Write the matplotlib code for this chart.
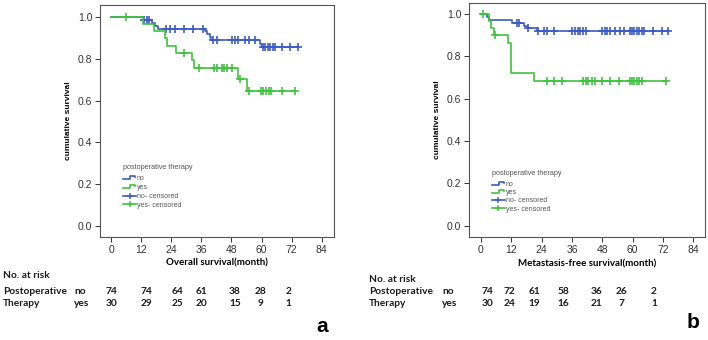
import numpy as np
import matplotlib
matplotlib.use("Agg")
import matplotlib.pyplot as plt
from matplotlib.lines import Line2D
from matplotlib.legend_handler import HandlerLine2D

# ---- panel a: overall survival ----
a_no_event_t = [12.6, 16.5, 17.5, 18.7, 37.3, 38.3, 39.3, 40.0, 59.2, 60.0]
a_no_surv = [0.986, 0.973, 0.959, 0.946, 0.932, 0.918, 0.904, 0.890, 0.873, 0.858]
a_no_cens = [13.3, 14.2, 15.1, 22.0, 23.5, 25.5, 29.0, 32.5, 36.5, 40.8, 42.1, 48.1,
             49.4, 50.8, 53.4, 55.1, 57.4, 60.6, 61.5, 62.4, 63.4, 64.4, 65.4, 68.0,
             71.4, 74.5]
a_yes_event_t = [12.9, 17.2, 21.5, 22.5, 25.8, 32.2, 33.1, 50.6, 54.3]
a_yes_surv = [0.967, 0.933, 0.899, 0.864, 0.830, 0.794, 0.757, 0.705, 0.645]
a_yes_cens = [6.0, 29.0, 35.0, 41.2, 42.1, 44.1, 45.0, 46.1, 48.1, 51.4, 55.0, 59.7,
              60.7, 61.8, 62.9, 63.9, 68.2, 73.2]

# ---- panel b: metastasis-free survival ----
b_no_event_t = [2.5, 3.2, 12.1, 17.0, 18.3, 22.0]
b_no_surv = [0.986, 0.973, 0.959, 0.945, 0.932, 0.918]
b_no_cens = [14.1, 15.2, 18.8, 22.7, 24.9, 26.0, 29.0, 36.1, 37.3, 38.4, 39.4, 40.5,
             41.7, 47.8, 49.1, 50.0, 51.1, 53.0, 55.0, 56.6, 59.0, 59.9, 60.7, 61.6,
             62.6, 63.6, 64.5, 68.2, 71.5, 74.1]
b_yes_event_t = [3.0, 4.0, 5.0, 10.8, 12.0, 21.0]
b_yes_surv = [0.967, 0.933, 0.900, 0.862, 0.720, 0.683]
b_yes_cens = [0.8, 5.5, 26.1, 29.1, 32.0, 40.5, 41.5, 42.5, 43.8, 45.2, 48.1, 51.0,
              54.8, 58.9, 59.8, 60.6, 61.6, 62.6, 63.6, 73.2]

# numbers at risk
a_risk_no = [74, 74, 64, 61, 38, 28, 2]
a_risk_yes = [30, 29, 25, 20, 15, 9, 1]
b_risk_no = [74, 72, 61, 58, 36, 26, 2]
b_risk_yes = [30, 24, 19, 16, 21, 7, 1]

x_ticks = [0, 12, 24, 36, 48, 60, 72, 84]
y_ticks = [0.0, 0.2, 0.4, 0.6, 0.8, 1.0]
legend_labels = ["no", "yes", "no- censored", "yes- censored"]

BLUE = "#3d5bc4"
GREEN = "#3ec43e"
W, H = 708, 340


class StepHandler(HandlerLine2D):
    """legend icon drawn as a little step, like SPSS does"""
    def create_artists(self, legend, orig_handle, xdescent, ydescent,
                       width, height, fontsize, trans):
        x = np.array([0, 0.55, 0.55, 0.95, 0.95]) * width - xdescent
        y = np.array([0.15, 0.15, 0.85, 0.85, 0.55]) * height - ydescent
        ln = Line2D(x, y, color=orig_handle.get_color(), lw=orig_handle.get_linewidth())
        ln.set_transform(trans)
        return [ln]


def km_curve(ax, event_t, surv, cens, color):
    last = max(cens + event_t)
    t = [0] + event_t + [last]
    s = [1.0] + surv + [surv[-1]]
    ax.step(t, s, where="post", color=color, lw=1.2)
    idx = np.searchsorted(event_t, cens, side="right")
    levels = np.array([1.0] + surv)
    ax.plot(cens, levels[idx], ls="none", marker="+", color=color,
            markersize=5.5, mew=1.2)


def panel(rect, xlim, ylim, curves, xlabel, xlabel_y, leg_anchor, leg_spacing):
    ax = fig.add_axes(rect)
    for ev, sv, cs, col in curves:
        km_curve(ax, ev, sv, cs, col)
    ax.set_xlim(*xlim)
    ax.set_ylim(*ylim)
    ax.set_xticks(x_ticks)
    ax.set_xticklabels([str(v) for v in x_ticks])
    ax.set_yticks(y_ticks)
    ax.set_yticklabels([f"{v:.1f}" for v in y_ticks])
    ax.tick_params(direction="out", length=3.5, width=0.7, colors="#333333",
                   labelsize=7.5, pad=2)
    for sp in ax.spines.values():
        sp.set_color("#555555")
        sp.set_linewidth(0.8)
    ax.set_ylabel("cumulative survival", fontsize=6, fontweight="bold", labelpad=4)
    fig.text((rect[0] + rect[2] / 2), 1 - xlabel_y / H, xlabel, ha="center", va="center",
             fontsize=7, fontweight="bold", family="Lato")
    handles = [Line2D([], [], color=BLUE, lw=1.2), Line2D([], [], color=GREEN, lw=1.2),
               Line2D([], [], color=BLUE, lw=1.2, marker="+", markersize=5, mew=1.1),
               Line2D([], [], color=GREEN, lw=1.2, marker="+", markersize=5, mew=1.1)]
    leg = ax.legend(handles, legend_labels, title="postoperative therapy",
                    loc="upper left", bbox_to_anchor=leg_anchor, frameon=False,
                    fontsize=5, title_fontsize=5.2, borderpad=0, borderaxespad=0,
                    handlelength=1.9, handletextpad=0.1, labelspacing=leg_spacing,
                    alignment="left",
                    handler_map={handles[0]: StepHandler(), handles[1]: StepHandler()})
    leg.get_title().set_color("#555555")
    for t in leg.get_texts():
        t.set_color("#555555")
    leg._legend_box.sep = 3
    return ax


def risk_table(x_left, x_grp, x_cols, rows_y, risk_no, risk_yes):
    kw = dict(fontsize=7.3, family="Lato", fontweight="bold", va="center",
              color="#1a1a1a")
    fig.text(x_left / W, 1 - rows_y[0] / H, "No. at risk", ha="left", **kw)
    fig.text(x_left / W, 1 - rows_y[1] / H, "Postoperative", ha="left", **kw)
    fig.text(x_left / W, 1 - rows_y[2] / H, "Therapy", ha="left", **kw)
    fig.text(x_grp / W, 1 - rows_y[1] / H, "no", ha="left", **kw)
    fig.text(x_grp / W, 1 - rows_y[2] / H, "yes", ha="left", **kw)
    for xc, n1, n2 in zip(x_cols, risk_no, risk_yes):
        fig.text(xc / W, 1 - rows_y[1] / H, str(n1), ha="center", **kw)
        fig.text(xc / W, 1 - rows_y[2] / H, str(n2), ha="center", **kw)


plt.rcParams["font.family"] = ["Liberation Sans", "DejaVu Sans"]
fig = plt.figure(figsize=(W / 100, H / 100), dpi=100)

panel([100 / W, 1 - 237 / H, 234 / W, 232 / H], (-4.4, 88.9), (-0.054, 1.059),
      [(a_no_event_t, a_no_surv, a_no_cens, BLUE),
       (a_yes_event_t, a_yes_surv, a_yes_cens, GREEN)],
      "Overall survival(month)", 263, (0.098, 0.315), 0.28)
panel([469 / W, 1 - 237 / H, 236 / W, 234.3 / H], (-4.75, 88.7), (-0.053, 1.053),
      [(b_no_event_t, b_no_surv, b_no_cens, BLUE),
       (b_yes_event_t, b_yes_surv, b_yes_cens, GREEN)],
      "Metastasis-free survival(month)", 264, (0.097, 0.288), 0.2)

risk_table(3, 74, [111.7, 146.7, 177.5, 201.7, 235, 260.5, 288.6],
           [275, 291.7, 303.3], a_risk_no, a_risk_yes)
risk_table(369, 442, [487.3, 509.7, 534.7, 563.3, 596.7, 621.3, 654],
           [279.3, 291.7, 303.3], b_risk_no, b_risk_yes)

fig.text(321.7 / W, 1 - 327 / H, "a", ha="center", va="center", fontsize=15,
         fontweight="bold")
fig.text(693 / W, 1 - 323 / H, "b", ha="center", va="center", fontsize=15,
         fontweight="bold")

fig.savefig("out.png", dpi=100)
